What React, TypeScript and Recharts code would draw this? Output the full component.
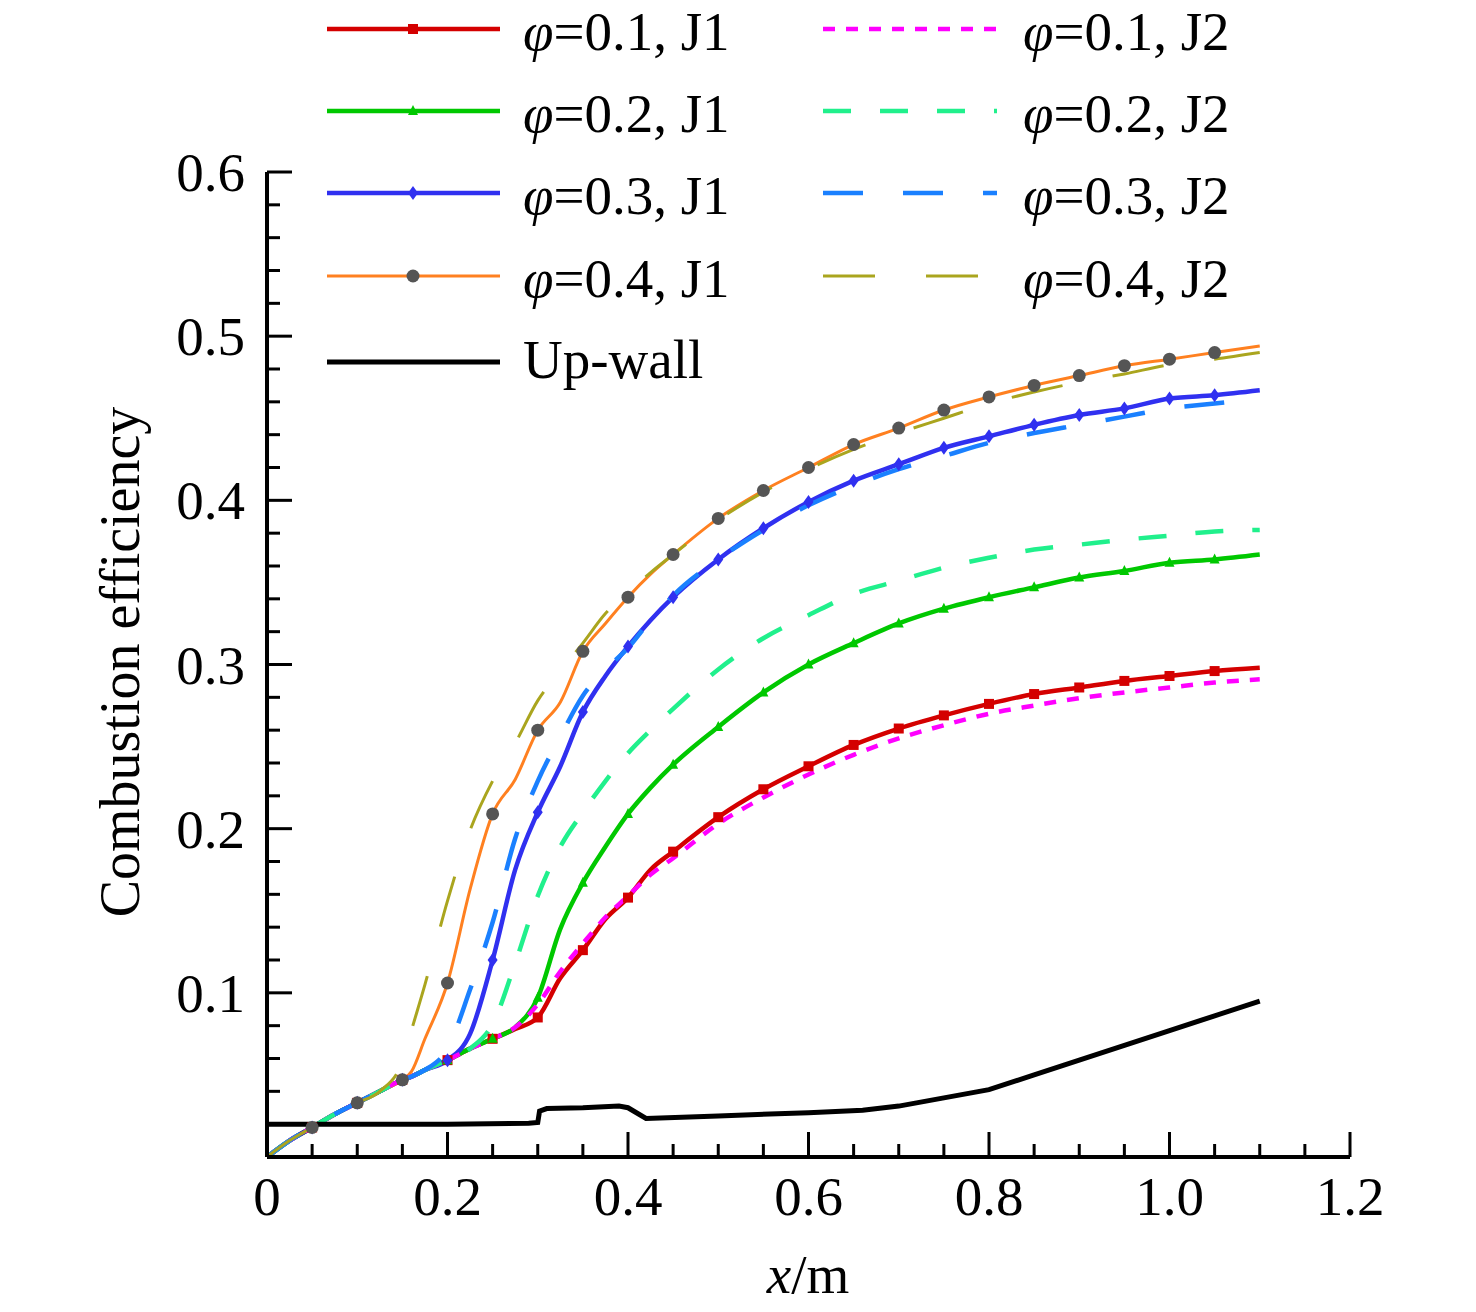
import React from 'react';
import { LineChart, Line, XAxis, YAxis } from 'recharts';

// x positions (m) where the curves were read
const X = [
  0, 0.025, 0.05, 0.075, 0.1, 0.125, 0.15, 0.16, 0.175, 0.2, 0.225, 0.25, 0.275, 0.3, 0.325, 0.35, 0.375, 0.4, 0.425,
  0.45, 0.5, 0.55, 0.6, 0.65, 0.7, 0.75, 0.8, 0.85, 0.9, 0.95, 1.0, 1.05, 1.1,
];

const PHI01_J1 = [
  0, 0.01, 0.018, 0.026, 0.033, 0.04, 0.047, 0.049, 0.053, 0.059, 0.066, 0.072, 0.078, 0.085, 0.109, 0.126, 0.145, 0.158,
  0.175, 0.186, 0.207, 0.224, 0.238, 0.251, 0.261, 0.269, 0.276, 0.282, 0.286, 0.29, 0.293, 0.296, 0.298,
];
const PHI02_J1 = [
  0, 0.01, 0.018, 0.026, 0.033, 0.04, 0.047, 0.049, 0.053, 0.059, 0.066, 0.072, 0.079, 0.097, 0.139, 0.167, 0.189, 0.209,
  0.225, 0.239, 0.262, 0.283, 0.3, 0.313, 0.325, 0.334, 0.341, 0.347, 0.353, 0.357, 0.362, 0.364, 0.367,
];
const PHI03_J1 = [
  0, 0.01, 0.018, 0.026, 0.033, 0.04, 0.047, 0.049, 0.053, 0.059, 0.075, 0.12, 0.175, 0.21, 0.238, 0.271, 0.293, 0.311,
  0.327, 0.341, 0.364, 0.383, 0.399, 0.412, 0.422, 0.432, 0.439, 0.446, 0.452, 0.456, 0.462, 0.464, 0.467,
];
const PHI04_J1 = [
  0, 0.01, 0.018, 0.026, 0.033, 0.04, 0.047, 0.052, 0.072, 0.106, 0.163, 0.209, 0.23, 0.26, 0.277, 0.308, 0.325, 0.341,
  0.355, 0.367, 0.389, 0.406, 0.42, 0.434, 0.444, 0.455, 0.463, 0.47, 0.476, 0.482, 0.486, 0.49, 0.494,
];
const PHI01_J2 = [
  0, 0.01, 0.018, 0.026, 0.033, 0.04, 0.047, 0.049, 0.053, 0.059, 0.066, 0.072, 0.079, 0.093, 0.113, 0.13, 0.146, 0.159,
  0.172, 0.182, 0.203, 0.219, 0.233, 0.245, 0.255, 0.263, 0.27, 0.275, 0.2795, 0.283, 0.286, 0.289, 0.291,
];
const PHI02_J2 = [
  0, 0.01, 0.018, 0.026, 0.033, 0.04, 0.047, 0.049, 0.053, 0.059, 0.066, 0.081, 0.118, 0.159, 0.189, 0.21, 0.229, 0.246,
  0.26, 0.273, 0.297, 0.316, 0.33, 0.343, 0.351, 0.359, 0.365, 0.37, 0.373, 0.376, 0.3785, 0.381, 0.382,
];
const PHI03_J2 = [
  0, 0.01, 0.018, 0.026, 0.033, 0.04, 0.047, 0.049, 0.053, 0.066, 0.102, 0.143, 0.194, 0.229, 0.256, 0.281, 0.297, 0.31,
  0.327, 0.342, 0.364, 0.382, 0.397, 0.409, 0.419, 0.427, 0.435, 0.441, 0.446, 0.451, 0.456, 0.459, 0.462,
];
const PHI04_J2 = [
  0, 0.01, 0.018, 0.026, 0.033, 0.04, 0.058, 0.077, 0.105, 0.156, 0.199, 0.229, 0.252, 0.278, 0.296, 0.313, 0.331, 0.344,
  0.356, 0.367, 0.388, 0.405, 0.419, 0.431, 0.441, 0.45, 0.459, 0.466, 0.472, 0.477, 0.4826, 0.486, 0.49,
];

// upper wall curve has its own x positions (step near 0.3 and 0.4)
const UPWALL_X = [
  0, 0.1, 0.2, 0.29, 0.3, 0.302, 0.31, 0.35, 0.39, 0.4, 0.42, 0.5, 0.6, 0.66, 0.7, 0.75, 0.8, 0.85, 0.9, 0.95, 1.0, 1.05, 1.1,
];
const UPWALL_Y = [
  0.02, 0.02, 0.02, 0.0205, 0.021, 0.028, 0.0295, 0.03, 0.031, 0.03, 0.0235, 0.025, 0.027, 0.0285, 0.031, 0.036, 0.041,
  0.05, 0.059, 0.068, 0.077, 0.086, 0.095,
];

const X_TICKS = Array.from({ length: 25 }, (_, i) => i * 0.05);
const Y_TICKS = Array.from({ length: 31 }, (_, i) => i * 0.02);

const FONT = '"Liberation Serif", "Times New Roman", serif';
const FS = 55;

type Shape = 'square' | 'triangle' | 'diamond' | 'circle' | null;

const SERIES = [
  { key: 'p01j1', label: '=0.1, J1', values: PHI01_J1, color: '#d40000', width: 4.5, dash: undefined, shape: 'square' as Shape, markColor: '#d40000' },
  { key: 'p02j1', label: '=0.2, J1', values: PHI02_J1, color: '#00c800', width: 4.5, dash: undefined, shape: 'triangle' as Shape, markColor: '#00c800' },
  { key: 'p03j1', label: '=0.3, J1', values: PHI03_J1, color: '#3030f0', width: 4.5, dash: undefined, shape: 'diamond' as Shape, markColor: '#3030f0' },
  { key: 'p04j1', label: '=0.4, J1', values: PHI04_J1, color: '#ff8020', width: 3, dash: undefined, shape: 'circle' as Shape, markColor: '#555555' },
  { key: 'p01j2', label: '=0.1, J2', values: PHI01_J2, color: '#ff00ff', width: 4.5, dash: '12 11', shape: null, markColor: '' },
  { key: 'p02j2', label: '=0.2, J2', values: PHI02_J2, color: '#20f08c', width: 4.5, dash: '28 29', shape: null, markColor: '' },
  { key: 'p03j2', label: '=0.3, J2', values: PHI03_J2, color: '#1a80ff', width: 4.5, dash: '40 40', shape: null, markColor: '' },
  { key: 'p04j2', label: '=0.4, J2', values: PHI04_J2, color: '#aaa51e', width: 3, dash: '52 51', shape: null, markColor: '' },
];

const rows = X.map((x, i) => {
  const r: Record<string, number> = { x };
  SERIES.forEach((s) => (r[s.key] = s.values[i]));
  return r;
});
const upRows = UPWALL_X.map((x, i) => ({ x, up: UPWALL_Y[i] }));

const isMarkerX = (v: number) => Math.abs(v * 20 - Math.round(v * 20)) < 1e-6 && v > 0.01 && v < 1.08;

function Marker({ shape, cx, cy, color }: { shape: Shape; cx: number; cy: number; color: string }) {
  if (shape === 'square') return <rect x={cx - 5} y={cy - 5} width={10} height={10} fill={color} />;
  if (shape === 'triangle')
    return <polygon points={`${cx},${cy - 6} ${cx - 5},${cy + 4} ${cx + 5},${cy + 4}`} fill={color} />;
  if (shape === 'diamond')
    return <polygon points={`${cx},${cy - 7} ${cx + 5},${cy} ${cx},${cy + 7} ${cx - 5},${cy}`} fill={color} />;
  if (shape === 'circle') return <circle cx={cx} cy={cy} r={6.5} fill={color} />;
  return null;
}

const makeDot = (shape: Shape, color: string) => (props: any) => {
  const { cx, cy, payload, index } = props;
  const key = `dot-${shape}-${index}`;
  if (cx == null || cy == null || !isMarkerX(payload.x)) return <g key={key} />;
  return (
    <g key={key}>
      <Marker shape={shape} cx={cx} cy={cy} color={color} />
    </g>
  );
};

const XTick = (props: any) => {
  const { x, y, payload } = props;
  const v = payload.value as number;
  const major = Math.round(v * 100) % 20 === 0;
  return (
    <g>
      <line x1={x} x2={x} y1={y} y2={y - (major ? 25 : 13)} stroke="#000" strokeWidth={3} />
      {major && (
        <text x={x} y={y + 58} textAnchor="middle" fontFamily={FONT} fontSize={FS} fill="#000">
          {v === 0 ? '0' : v.toFixed(1)}
        </text>
      )}
    </g>
  );
};

const YTick = (props: any) => {
  const { x, y, payload } = props;
  const v = payload.value as number;
  const major = Math.round(v * 100) % 10 === 0;
  return (
    <g>
      <line x1={x} x2={x + (major ? 25 : 13)} y1={y} y2={y} stroke="#000" strokeWidth={3} />
      {major && v > 0 && (
        <text x={x - 22} y={y + 19} textAnchor="end" fontFamily={FONT} fontSize={FS} fill="#000">
          {v.toFixed(1)}
        </text>
      )}
    </g>
  );
};

function LegendOverlay() {
  const rowsY = [29, 111, 193, 276];
  const baseOff = 21;
  return (
    <svg width={1476} height={420} style={{ position: 'absolute', left: 0, top: 0, pointerEvents: 'none' }}>
      {SERIES.map((s, i) => {
        const col = i < 4 ? 0 : 1;
        const y = rowsY[i % 4];
        const x1 = col === 0 ? 327 : 823;
        const x2 = col === 0 ? 500 : 997;
        const tx = col === 0 ? 523 : 1023;
        return (
          <g key={s.key}>
            <line x1={x1} x2={x2} y1={y} y2={y} stroke={s.color} strokeWidth={s.width} strokeDasharray={s.dash} />
            {s.shape && <Marker shape={s.shape} cx={413} cy={y} color={s.markColor} />}
            <text x={tx} y={y + baseOff} fontFamily={FONT} fontSize={FS} fill="#000">
              <tspan fontStyle="italic">φ</tspan>
              {s.label}
            </text>
          </g>
        );
      })}
      <line x1={327} x2={500} y1={362} y2={362} stroke="#000" strokeWidth={5} />
      <text x={523} y={378} fontFamily={FONT} fontSize={FS} fill="#000">
        Up-wall
      </text>
    </svg>
  );
}

export default function App() {
  return (
    <div style={{ position: 'absolute', left: 0, top: 0, width: 1476, height: 1312, background: '#fff' }}>
      <LineChart width={1476} height={1312} data={rows} margin={{ top: 172, right: 126, bottom: 55, left: 0 }}>
        <XAxis
          dataKey="x"
          type="number"
          domain={[0, 1.2]}
          ticks={X_TICKS}
          interval={0}
          height={100}
          tickSize={0}
          tickMargin={0}
          tickLine={false}
          tick={<XTick />}
          axisLine={{ stroke: '#000', strokeWidth: 4 }}
        />
        <YAxis
          type="number"
          domain={[0, 0.6]}
          ticks={Y_TICKS}
          interval={0}
          width={267}
          tickSize={0}
          tickMargin={0}
          tickLine={false}
          tick={<YTick />}
          axisLine={{ stroke: '#000', strokeWidth: 4 }}
        />
        {SERIES.map((s) => (
          <Line
            key={s.key}
            dataKey={s.key}
            type="monotone"
            stroke={s.color}
            strokeWidth={s.width}
            strokeDasharray={s.dash}
            dot={s.shape ? makeDot(s.shape, s.markColor) : false}
            activeDot={false}
            isAnimationActive={false}
          />
        ))}
        <Line
          data={upRows}
          dataKey="up"
          type="linear"
          stroke="#000"
          strokeWidth={5}
          dot={false}
          activeDot={false}
          isAnimationActive={false}
        />
      </LineChart>
      <LegendOverlay />
      <svg width={1476} height={1312} style={{ position: 'absolute', left: 0, top: 0, pointerEvents: 'none' }}>
        <text
          x={0}
          y={0}
          transform="translate(139 662) rotate(-90)"
          textAnchor="middle"
          fontFamily={FONT}
          fontSize={56}
          fill="#000"
        >
          Combustion efficiency
        </text>
        <text x={808} y={1293} textAnchor="middle" fontFamily={FONT} fontSize={FS} fill="#000">
          <tspan fontStyle="italic">x</tspan>/m
        </text>
      </svg>
    </div>
  );
}
